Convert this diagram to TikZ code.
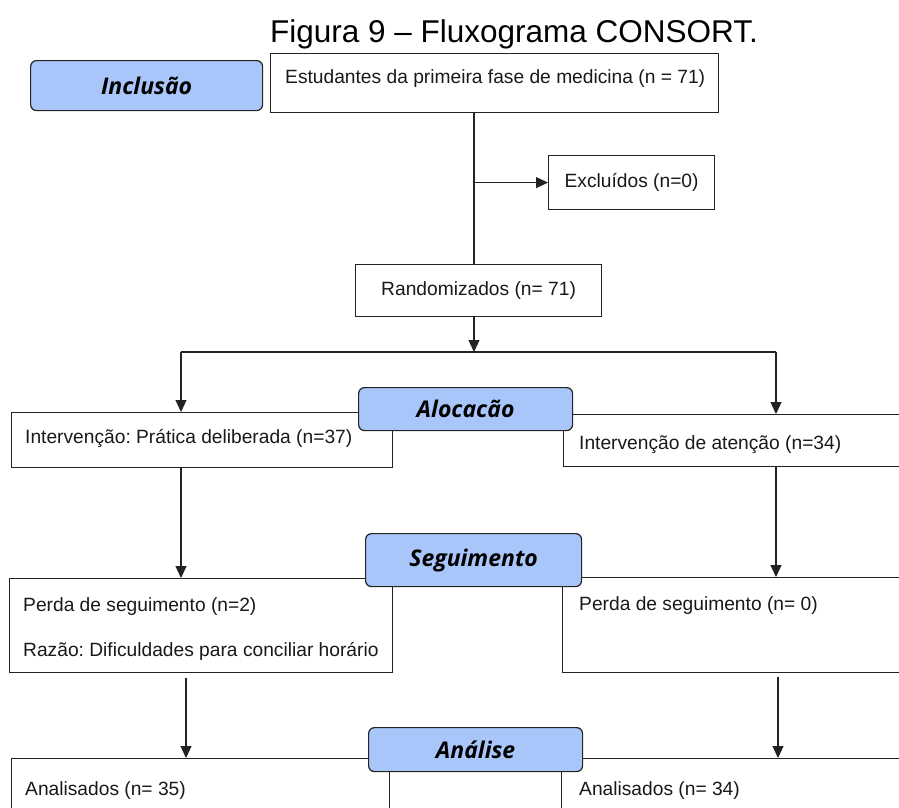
\documentclass[tikz,border=0pt]{standalone}
\usepackage{fontspec}
\setmainfont{Liberation Sans}
\newfontfamily\catfont{Open Sans}
\usetikzlibrary{arrows.meta}
\definecolor{catblue}{RGB}{169,198,250}
\definecolor{ink}{RGB}{35,35,35}
\frenchspacing
\begin{document}
\begin{tikzpicture}[x=1pt,y=-1pt,
  font=\frenchspacing\fontsize{19.2}{22}\selectfont,
  box/.style={draw=ink, line width=1.2pt, rectangle, anchor=north west, inner sep=0pt, fill=white, text=black!90},
  cat/.style={draw=ink, line width=1.2pt, rounded corners=6pt, fill=catblue, anchor=north west, inner sep=0pt, font=\catfont\bfseries\itshape\fontsize{23}{26}\selectfont, text=black},
  txt/.style={anchor=base west, inner sep=0pt, text=black!90},
  arr/.style={draw=ink, line width=1.2pt, -{Triangle[width=11pt,length=12pt]}},
  ln/.style={draw=ink, line width=1.2pt}]
\useasboundingbox (0,0) rectangle (899,807);
\clip (0,0) rectangle (899,807);

% title
\node[font=\fontsize{31.5}{36}\selectfont, text=black] (title) at (514,34) {Figura 9 – Fluxograma CONSORT.};

% boxes
\node[box, minimum width=448pt, minimum height=59pt] (estud) at (270,53) {};
\node[txt] (tEstud) at (285,83) {Estudantes da primeira fase de medicina (n = 71)};
\node[box, minimum width=166pt, minimum height=54pt] (excl) at (548,155) {Excluídos (n=0)};
\node[box, minimum width=246pt, minimum height=52pt] (rand) at (355,264) {Randomizados (n= 71)};

\node[box, minimum width=381pt, minimum height=55pt] (intL) at (11,412) {};
\node[txt] (tIntL) at (25,443) {Intervenção: Prática deliberada (n=37)};
\node[box, minimum width=342pt, minimum height=52pt] (intR) at (563,414) {};
\node[txt] (tIntR) at (579,449) {Intervenção de atenção (n=34)};

\node[box, minimum width=383pt, minimum height=94pt] (perdaL) at (9,578) {};
\node[txt] (tPerdaL1) at (23,611) {Perda de seguimento (n=2)};
\node[txt] (tPerdaL2) at (23,656) {Razão: Dificuldades para conciliar horário};
\node[box, minimum width=343pt, minimum height=95pt] (perdaR) at (562,577) {};
\node[txt] (tPerdaR) at (579,610) {Perda de seguimento (n= 0)};

\node[box, minimum width=378pt, minimum height=80pt] (anaL) at (11,758) {};
\node[txt] (tAnaL) at (25,795) {Analisados (n= 35)};
\node[box, minimum width=344pt, minimum height=80pt] (anaR) at (561,758) {};
\node[txt] (tAnaR) at (579,795) {Analisados (n= 34)};

% connectors
\coordinate (sp) at (474,182);
\coordinate (split) at (474,352);
\coordinate (cl) at (181,352);
\coordinate (cr) at (776,352);
\coordinate (gapL) at (186,678);
\coordinate (gapR) at (778,677);

\draw[ln] (estud.south -| sp) -- (rand.north -| sp);
\draw[arr] (excl.west -| sp) -- (excl.west);
\draw[arr] (rand.south -| split) -- (split);
\draw[ln] (cl) -- (cr);
\draw[arr] (cl) -- (intL.north -| cl);
\draw[arr] (cr) -- (intR.north -| cr);
\draw[arr] (intL.south -| cl) -- (perdaL.north -| cl);
\draw[arr] (intR.south -| cr) -- (perdaR.north -| cr);
\draw[arr] (gapL) -- (anaL.north -| gapL);
\draw[arr] (gapR) -- (anaR.north -| gapR);

% category labels
\node[cat, minimum width=232pt, minimum height=50pt] (incl) at (30,60) {Inclusão};
\node[cat, minimum width=214pt, minimum height=43pt] (aloc) at (358,387) {Alocacão};
\node[cat, minimum width=216pt, minimum height=53pt] (segu) at (365,533) {Seguimento};
\node[cat, minimum width=214pt, minimum height=44pt] (anal) at (368,727) {Análise};
\end{tikzpicture}
\end{document}
